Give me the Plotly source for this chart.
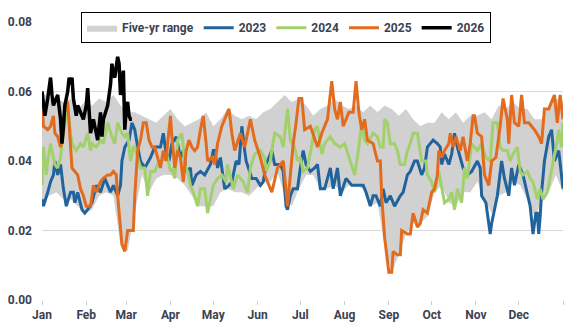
import datetime as dt
import plotly.graph_objects as go

BASE = dt.date(2023, 1, 1)

# Five-year range (day of year, upper, lower)
band_days = list(range(0, 366, 5))
band_upper = [0.060, 0.058, 0.058, 0.057, 0.058, 0.055, 0.057, 0.056, 0.058, 0.057,
              0.059, 0.056, 0.054, 0.054, 0.053, 0.052, 0.051, 0.053, 0.055, 0.052,
              0.050, 0.051, 0.052, 0.054, 0.050, 0.052, 0.055, 0.053, 0.052, 0.053,
              0.052, 0.054, 0.055, 0.057, 0.059, 0.057, 0.058, 0.056, 0.053, 0.055,
              0.056, 0.058, 0.056, 0.055, 0.056, 0.054, 0.056, 0.054, 0.056, 0.055,
              0.053, 0.055, 0.052, 0.050, 0.051, 0.051, 0.054, 0.052, 0.054, 0.051,
              0.053, 0.053, 0.054, 0.052, 0.056, 0.055, 0.057, 0.055, 0.055, 0.052,
              0.052, 0.056, 0.058, 0.057]
band_lower = [0.027, 0.030, 0.031, 0.029, 0.029, 0.027, 0.025, 0.026, 0.030, 0.031,
              0.030, 0.016, 0.014, 0.025, 0.036, 0.031, 0.035, 0.036, 0.036, 0.035,
              0.033, 0.030, 0.027, 0.027, 0.027, 0.031, 0.032, 0.031, 0.031, 0.030,
              0.032, 0.034, 0.034, 0.037, 0.030, 0.027, 0.032, 0.036, 0.036, 0.032,
              0.032, 0.033, 0.031, 0.033, 0.033, 0.032, 0.027, 0.028, 0.016, 0.008,
              0.013, 0.019, 0.022, 0.022, 0.024, 0.031, 0.033, 0.028, 0.027, 0.031,
              0.031, 0.034, 0.029, 0.025, 0.030, 0.031, 0.034, 0.033, 0.029, 0.024,
              0.028, 0.031, 0.036, 0.031]

# 2023
days_2023 = [0, 1, 4, 6, 8, 9, 11, 13, 15, 17, 20, 22, 23, 25, 28, 30, 32, 35, 38, 41,
             44, 48, 50, 53, 55, 56, 58, 61, 63, 65, 67, 69, 72, 76, 79, 83, 85, 87, 89, 91,
             94, 97, 99, 101, 104, 105, 108, 111, 114, 118, 120, 121, 123, 125, 128, 131, 133, 136, 138, 140,
             142, 143, 147, 150, 153, 155, 157, 161, 163, 167, 169, 171, 172, 174, 176, 179, 181, 183, 185, 188,
             191, 193, 195, 198, 202, 204, 207, 209, 213, 217, 221, 225, 227, 230, 232, 234, 237, 239, 241, 244,
             247, 251, 253, 256, 258, 261, 263, 266, 268, 270, 274, 277, 279, 280, 282, 285, 287, 289, 291, 293,
             295, 298, 301, 305, 307, 308, 311, 312, 314, 315, 317, 319, 322, 324, 327, 329, 331, 334, 337, 340,
             342, 344, 346, 347, 348, 349, 350, 352, 355, 357, 359, 362, 364, 365]
vals_2023 = [0.029, 0.027, 0.031, 0.034, 0.036, 0.040, 0.036, 0.039, 0.032, 0.027, 0.031, 0.031, 0.028, 0.031, 0.026, 0.025, 0.026, 0.028, 0.033, 0.031,
             0.035, 0.031, 0.033, 0.030, 0.033, 0.040, 0.044, 0.046, 0.051, 0.049, 0.044, 0.040, 0.038, 0.041, 0.044, 0.044, 0.048, 0.042, 0.040, 0.045,
             0.047, 0.041, 0.043, 0.037, 0.038, 0.033, 0.036, 0.037, 0.036, 0.039, 0.043, 0.043, 0.038, 0.041, 0.032, 0.033, 0.034, 0.040, 0.039, 0.050,
             0.043, 0.040, 0.035, 0.035, 0.033, 0.034, 0.039, 0.043, 0.039, 0.039, 0.037, 0.027, 0.026, 0.030, 0.032, 0.032, 0.038, 0.043, 0.039, 0.037,
             0.038, 0.039, 0.032, 0.032, 0.038, 0.032, 0.038, 0.030, 0.035, 0.033, 0.033, 0.033, 0.031, 0.027, 0.030, 0.030, 0.027, 0.032, 0.028, 0.030,
             0.027, 0.030, 0.031, 0.036, 0.037, 0.040, 0.040, 0.036, 0.038, 0.044, 0.046, 0.045, 0.044, 0.039, 0.042, 0.039, 0.042, 0.048, 0.044, 0.041,
             0.038, 0.036, 0.037, 0.040, 0.038, 0.030, 0.028, 0.025, 0.019, 0.022, 0.026, 0.030, 0.040, 0.035, 0.030, 0.038, 0.033, 0.039, 0.036, 0.031,
             0.027, 0.019, 0.025, 0.025, 0.019, 0.024, 0.031, 0.040, 0.047, 0.049, 0.040, 0.043, 0.036, 0.032]

# 2024
days_2024 = [0, 1, 3, 4, 6, 7, 9, 11, 13, 14, 16, 18, 20, 21, 24, 27, 29, 32, 34, 35,
             38, 41, 43, 46, 49, 51, 53, 56, 58, 60, 62, 64, 65, 67, 69, 72, 74, 76, 79, 81,
             84, 88, 90, 91, 93, 95, 98, 100, 102, 104, 106, 109, 111, 114, 116, 118, 120, 123, 126, 129,
             130, 134, 137, 141, 144, 146, 149, 153, 156, 157, 160, 161, 163, 167, 169, 172, 174, 177, 179, 181,
             183, 186, 188, 191, 193, 196, 198, 202, 205, 209, 212, 216, 219, 222, 224, 226, 228, 232, 235, 237,
             239, 240, 242, 244, 247, 249, 251, 254, 256, 258, 260, 263, 266, 269, 270, 273, 275, 278, 280, 282,
             285, 287, 289, 291, 294, 296, 298, 301, 305, 308, 311, 314, 316, 319, 321, 323, 326, 328, 330, 333,
             335, 337, 340, 342, 344, 347, 349, 351, 354, 356, 358, 361, 362, 364, 365]
vals_2024 = [0.033, 0.044, 0.036, 0.040, 0.045, 0.043, 0.039, 0.038, 0.041, 0.045, 0.050, 0.056, 0.048, 0.045, 0.043, 0.045, 0.044, 0.048, 0.043, 0.045,
             0.044, 0.046, 0.045, 0.051, 0.047, 0.045, 0.051, 0.048, 0.047, 0.048, 0.040, 0.044, 0.044, 0.041, 0.038, 0.038, 0.030, 0.037, 0.037, 0.039,
             0.040, 0.041, 0.037, 0.038, 0.035, 0.046, 0.048, 0.039, 0.037, 0.033, 0.031, 0.027, 0.032, 0.032, 0.025, 0.029, 0.033, 0.035, 0.036, 0.034,
             0.039, 0.032, 0.036, 0.034, 0.031, 0.038, 0.042, 0.043, 0.041, 0.037, 0.040, 0.043, 0.048, 0.047, 0.044, 0.055, 0.046, 0.044, 0.040, 0.041,
             0.037, 0.038, 0.042, 0.049, 0.050, 0.042, 0.045, 0.047, 0.045, 0.044, 0.045, 0.040, 0.036, 0.044, 0.051, 0.046, 0.045, 0.048, 0.047, 0.044,
             0.044, 0.052, 0.051, 0.045, 0.045, 0.043, 0.039, 0.039, 0.043, 0.045, 0.048, 0.048, 0.040, 0.040, 0.036, 0.034, 0.031, 0.037, 0.033, 0.028,
             0.029, 0.031, 0.026, 0.032, 0.028, 0.038, 0.035, 0.045, 0.043, 0.045, 0.041, 0.040, 0.051, 0.051, 0.044, 0.043, 0.043, 0.040, 0.042, 0.044,
             0.037, 0.036, 0.037, 0.035, 0.034, 0.029, 0.032, 0.029, 0.031, 0.035, 0.039, 0.046, 0.049, 0.044, 0.051]

# 2025
days_2025 = [0, 1, 4, 6, 8, 9, 11, 13, 15, 16, 18, 20, 21, 23, 25, 27, 29, 31, 34, 36,
             38, 41, 43, 46, 48, 50, 52, 53, 55, 56, 58, 60, 62, 64, 65, 66, 67, 69, 71, 73,
             75, 77, 79, 81, 83, 85, 87, 88, 90, 91, 93, 95, 97, 99, 101, 103, 105, 107, 109, 111,
             113, 115, 116, 119, 121, 123, 126, 129, 131, 133, 135, 139, 142, 146, 149, 153, 156, 161, 165, 169,
             172, 174, 176, 178, 180, 182, 184, 188, 193, 196, 200, 203, 205, 207, 209, 211, 215, 218, 220, 222,
             224, 226, 228, 232, 235, 237, 238, 240, 241, 243, 245, 246, 249, 251, 252, 256, 258, 260, 263, 265,
             267, 270, 273, 275, 277, 278, 280, 282, 285, 286, 288, 290, 293, 295, 298, 300, 302, 303, 305, 308,
             310, 313, 315, 318, 321, 323, 326, 327, 329, 331, 334, 336, 338, 341, 345, 348, 350, 352, 355, 357,
             359, 361, 363, 365]
vals_2025 = [0.058, 0.050, 0.049, 0.050, 0.053, 0.048, 0.047, 0.044, 0.048, 0.055, 0.057, 0.045, 0.038, 0.037, 0.036, 0.032, 0.030, 0.027, 0.027, 0.033,
             0.031, 0.034, 0.035, 0.036, 0.036, 0.037, 0.036, 0.030, 0.021, 0.016, 0.014, 0.020, 0.020, 0.020, 0.030, 0.038, 0.043, 0.046, 0.051, 0.051,
             0.046, 0.044, 0.044, 0.041, 0.038, 0.043, 0.040, 0.045, 0.053, 0.047, 0.038, 0.043, 0.041, 0.034, 0.043, 0.046, 0.044, 0.043, 0.044, 0.049,
             0.053, 0.045, 0.040, 0.041, 0.039, 0.045, 0.050, 0.053, 0.055, 0.048, 0.043, 0.048, 0.044, 0.052, 0.046, 0.041, 0.036, 0.031, 0.038, 0.040,
             0.027, 0.036, 0.045, 0.051, 0.058, 0.058, 0.049, 0.050, 0.044, 0.048, 0.052, 0.063, 0.055, 0.052, 0.057, 0.050, 0.054, 0.054, 0.063, 0.054,
             0.049, 0.052, 0.046, 0.045, 0.040, 0.040, 0.030, 0.018, 0.014, 0.008, 0.008, 0.014, 0.013, 0.013, 0.020, 0.019, 0.019, 0.025, 0.021, 0.022,
             0.026, 0.025, 0.031, 0.032, 0.036, 0.043, 0.041, 0.043, 0.045, 0.048, 0.044, 0.047, 0.043, 0.047, 0.040, 0.045, 0.053, 0.053, 0.048, 0.047,
             0.036, 0.033, 0.040, 0.041, 0.050, 0.058, 0.052, 0.045, 0.059, 0.051, 0.050, 0.059, 0.051, 0.051, 0.049, 0.047, 0.045, 0.055, 0.055, 0.057,
             0.059, 0.051, 0.059, 0.052]

# 2026 (year to date)
days_2026 = [0, 1, 2, 4, 6, 7, 8, 10, 11, 13, 14, 15, 16, 18, 19, 20, 21, 22, 24, 25,
             27, 29, 31, 32, 34, 36, 37, 39, 41, 42, 43, 46, 48, 49, 50, 51, 53, 54, 55, 56,
             57, 58, 59, 60, 61, 62, 63]
vals_2026 = [0.060, 0.057, 0.053, 0.058, 0.064, 0.059, 0.056, 0.058, 0.059, 0.052, 0.045, 0.050, 0.056, 0.060, 0.064, 0.062, 0.064, 0.058, 0.053, 0.056,
             0.054, 0.052, 0.056, 0.061, 0.048, 0.052, 0.050, 0.046, 0.054, 0.047, 0.052, 0.056, 0.062, 0.068, 0.065, 0.064, 0.070, 0.068, 0.059, 0.062,
             0.066, 0.049, 0.055, 0.057, 0.053, 0.052, 0.052]

y_ticks = [0.00, 0.02, 0.04, 0.06, 0.08]
month_labels = ["Jan", "Feb", "Mar", "Apr", "May", "Jun", "Jul", "Aug", "Sep", "Oct", "Nov", "Dec", ""]


def to_dates(days):
    return [BASE + dt.timedelta(days=d) for d in days]


month_ticks = [dt.date(2023, m, 1) for m in range(1, 13)] + [dt.date(2024, 1, 1)]

fig = go.Figure()
fig.add_trace(go.Scatter(x=to_dates(band_days), y=band_upper, mode="lines",
                         line=dict(width=0, color="#d2d1d2"), showlegend=False,
                         hoverinfo="skip"))
fig.add_trace(go.Scatter(x=to_dates(band_days), y=band_lower, mode="lines",
                         line=dict(width=0, color="#d2d1d2"), fill="tonexty",
                         fillcolor="#d2d1d2", name="Five-yr range"))
series = [("2023", days_2023, vals_2023, "#21639c", 3),
          ("2024", days_2024, vals_2024, "#a2d06b", 3),
          ("2025", days_2025, vals_2025, "#e26b1e", 3),
          ("2026", days_2026, vals_2026, "#000000", 3.5)]
for name, d, v, c, w in series:
    fig.add_trace(go.Scatter(x=to_dates(d), y=v, mode="lines", name=name,
                             line=dict(color=c, width=w)))

font_main = dict(family="Roboto, Arial, sans-serif", size=12, color="#3b4250", weight="bold")

fig.update_layout(
    width=579, height=335,
    margin=dict(l=42, r=16, t=14, b=35),
    plot_bgcolor="white", paper_bgcolor="white",
    font=font_main,
    legend=dict(orientation="h", x=0.075, y=1.035, xanchor="left", yanchor="top",
                bordercolor="#000000", borderwidth=1, bgcolor="white",
                font=font_main, itemwidth=30, tracegroupgap=0, traceorder="normal"),
    xaxis=dict(type="date", range=[BASE, BASE + dt.timedelta(days=365)],
               tickvals=month_ticks, ticktext=month_labels, ticks="outside", ticklen=4,
               tickcolor="#cccccc", showgrid=False, showline=False, zeroline=False,
               tickfont=font_main, automargin=False),
    yaxis=dict(range=[0, 0.08], tickvals=y_ticks, tickformat=".2f",
               showgrid=True, gridcolor="#d9d9d9", gridwidth=1, zeroline=False,
               showline=False, tickfont=font_main, ticks="", ticklabelstandoff=9,
               automargin=False),
)

fig.write_html("out.html")
